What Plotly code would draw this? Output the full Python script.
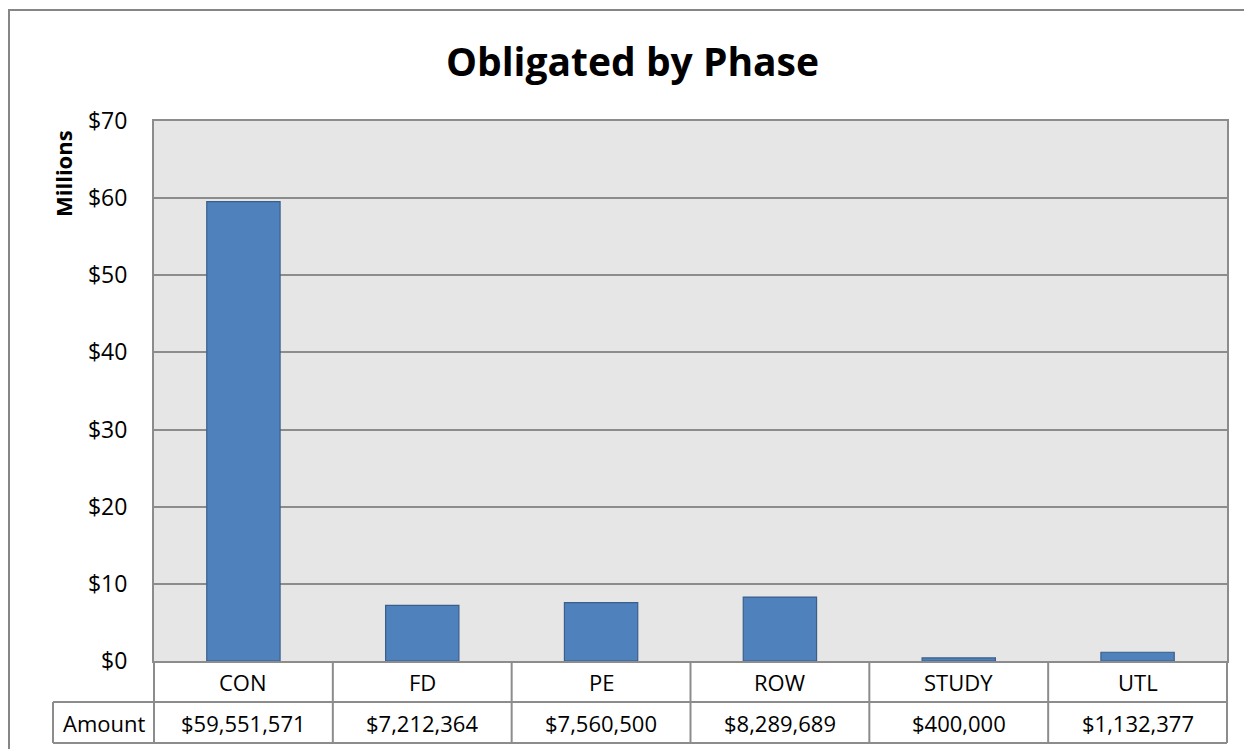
import plotly.graph_objects as go

categories = ["CON", "FD", "PE", "ROW", "STUDY", "UTL"]
amounts = [59551571, 7212364, 7560500, 8289689, 400000, 1132377]
y_ticks = [0, 10, 20, 30, 40, 50, 60, 70]
y_tick_labels = ["$0", "$10", "$20", "$30", "$40", "$50", "$60", "$70"]
row_label = "Amount"
title = "Obligated by Phase"
y_title = "Millions"

# page body has an 8px margin; the figure is sized to fit the 1252x749 window
OFF = 8
W, H = 1252 - OFF, 749 - OFF
PL, PR, PT, PB = 154, 1227, 121, 661  # plot area in page pixels
L, R, T, B = PL - OFF, W - (PR - OFF), PT - OFF, H - (PB - OFF)
pw, ph = W - L - R, H - T - B
FONT = "Open Sans"
GRID = "#8c8c8c"

vals_m = [a / 1e6 for a in amounts]
n = len(categories)

fig = go.Figure()
fig.add_trace(go.Bar(
    x=categories, y=vals_m, width=0.41,
    marker=dict(color="#4f81bd", line=dict(color="#3a5f8b", width=1.2)),
    hoverinfo="skip",
))

def py(page_y):  # page pixel y -> paper y
    return (PB - page_y) / ph

def px(page_x):  # page pixel x -> paper x
    return (page_x - PL) / pw

row1_bot = py(702)
row2_bot = py(743)
shapes = []
line = dict(color=GRID, width=2)
# outer chart border
shapes.append(dict(type="rect", xref="paper", yref="paper",
                   x0=px(9), x1=px(1270), y0=py(770), y1=py(10),
                   line=dict(color="#868686", width=2), fillcolor="rgba(0,0,0,0)", layer="below"))
# table horizontal lines
shapes.append(dict(type="line", xref="paper", yref="paper", x0=0, x1=1, y0=row1_bot, y1=row1_bot, line=line))
shapes.append(dict(type="line", xref="paper", yref="paper", x0=px(53), x1=1, y0=row2_bot, y1=row2_bot, line=line))
shapes.append(dict(type="line", xref="paper", yref="paper", x0=px(53), x1=0, y0=row1_bot, y1=row1_bot, line=line))
shapes.append(dict(type="line", xref="paper", yref="paper", x0=px(53), x1=px(53), y0=row1_bot, y1=row2_bot, line=line))
# table vertical lines at category boundaries
for i in range(n + 1):
    xp = i / n
    shapes.append(dict(type="line", xref="paper", yref="paper", x0=xp, x1=xp, y0=0, y1=row2_bot, line=line))

tfont = dict(family=FONT, size=22, color="#000")
annotations = []
for c, a in zip(categories, amounts):
    annotations.append(dict(x=c, xref="x", y=(0 + row1_bot) / 2, yref="paper", text=c, showarrow=False,
                            font=tfont, xanchor="center", yanchor="middle"))
    annotations.append(dict(x=c, xref="x", y=(row1_bot + row2_bot) / 2, yref="paper", text=f"${a:,}",
                            showarrow=False, font=tfont, xanchor="center", yanchor="middle"))
annotations.append(dict(x=px((53 + 154) / 2), xref="paper", y=(row1_bot + row2_bot) / 2, yref="paper",
                        text=row_label, showarrow=False, font=tfont, xanchor="center", yanchor="middle"))
annotations.append(dict(x=px(63), xref="paper", y=py(174), yref="paper", text=f"<b>{y_title}</b>",
                        textangle=-90, showarrow=False, font=dict(family=FONT, size=22, color="#000"),
                        xanchor="center", yanchor="middle"))

fig.update_layout(
    width=W, height=H,
    margin=dict(l=L, r=R, t=T, b=B, autoexpand=False),
    paper_bgcolor="white", plot_bgcolor="#e6e6e6",
    title=dict(text=f"<b>{title}</b>", x=(632.5 - OFF) / W, xref="container", xanchor="center",
               y=1 - (62 - OFF) / H, yref="container", yanchor="middle",
               font=dict(family=FONT, size=39, color="#000")),
    showlegend=False,
    shapes=shapes, annotations=annotations,
    xaxis=dict(range=[-0.5, n - 0.5], showticklabels=False, ticks="", showgrid=False, zeroline=False,
               showline=True, linecolor=GRID, linewidth=2, mirror=True, fixedrange=True),
    yaxis=dict(range=[0, 70], tickvals=y_ticks, ticktext=y_tick_labels, showgrid=True, gridcolor=GRID,
               gridwidth=1.5, zeroline=False, showline=True, linecolor=GRID, linewidth=2, mirror=True,
               ticks="", ticklabelstandoff=20, tickfont=dict(family=FONT, size=23, color="#000"),
               fixedrange=True),
)

fig.write_html("out.html")
